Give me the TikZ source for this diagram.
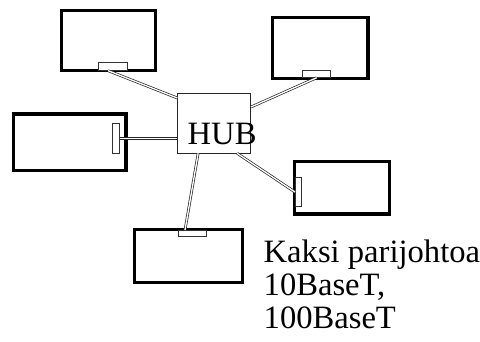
\documentclass[tikz,border=0pt]{standalone}
\usepackage{fontspec}
\setmainfont{Liberation Serif}
\begin{document}
\begin{tikzpicture}[x=1bp,y=-1bp,
  pc/.style={draw=black, line width=3.4bp, fill=white, inner sep=0, rectangle},
  nic/.style={draw=black!80, line width=0.8bp, fill=white, inner sep=0, rectangle},
  hubbox/.style={draw=black!85, line width=0.8bp, fill=white, inner sep=0, rectangle},
  conn/.style={draw=black!85, line width=0.7bp, double=white, double distance=1.3bp},
  bigtext/.style={font=\fontsize{32.6bp}{33.3bp}\selectfont, inner sep=0}]
\useasboundingbox (0,0) rectangle (480,341);
% computers
\node[pc, minimum width=94bp, minimum height=60bp] (pcTL) at (108.65,40.65) {};
\node[pc, minimum width=112.7bp, minimum height=56.7bp] (pcL) at (69.7,142.3) {};
\node[pc, minimum width=95.4bp, minimum height=61.3bp] (pcTR) at (320.35,48) {};
\node[pc, minimum width=95bp, minimum height=52.4bp] (pcR) at (342.15,187.85) {};
\node[pc, minimum width=108bp, minimum height=53bp] (pcB) at (188.35,255.85) {};
% network cards
\node[nic, minimum width=29.2bp, minimum height=7.6bp] (nicTL) at (112.7,66.5) {};
\node[nic, minimum width=28.2bp, minimum height=6.6bp] (nicTR) at (316.5,74) {};
\node[nic, minimum width=7.2bp, minimum height=29.9bp] (nicL) at (116,138.7) {};
\node[nic, minimum width=6.2bp, minimum height=29.2bp] (nicR) at (298.5,192) {};
\node[nic, minimum width=28.2bp, minimum height=6.2bp] (nicB) at (192.5,233.5) {};
% hub
\node[hubbox, minimum width=72.9bp, minimum height=59.2bp] (hub) at (214.15,123.3) {};
% connectors
\draw[conn] ([xshift=-4.5bp]nicTL.south) -- ([yshift=25.3bp]hub.west);
\draw[conn] (nicL.east) -- (nicL.east -| hub.west);
\draw[conn] ([xshift=0.2bp]nicTR.south) -- ([yshift=16.3bp]hub.east);
\draw[conn] ([xshift=23bp]hub.south) -- (nicR.west);
\draw[conn] ([xshift=-16bp]hub.south) -- ([xshift=-7.5bp]nicB.north);
% texts
\node[bigtext, anchor=base west] (hubtext) at (187.5,144) {HUB};
\node[bigtext, anchor=north west, align=left] (caption) at (263.5,239.4) {Kaksi parijohtoa\\10BaseT,\\100BaseT};
\end{tikzpicture}
\end{document}
